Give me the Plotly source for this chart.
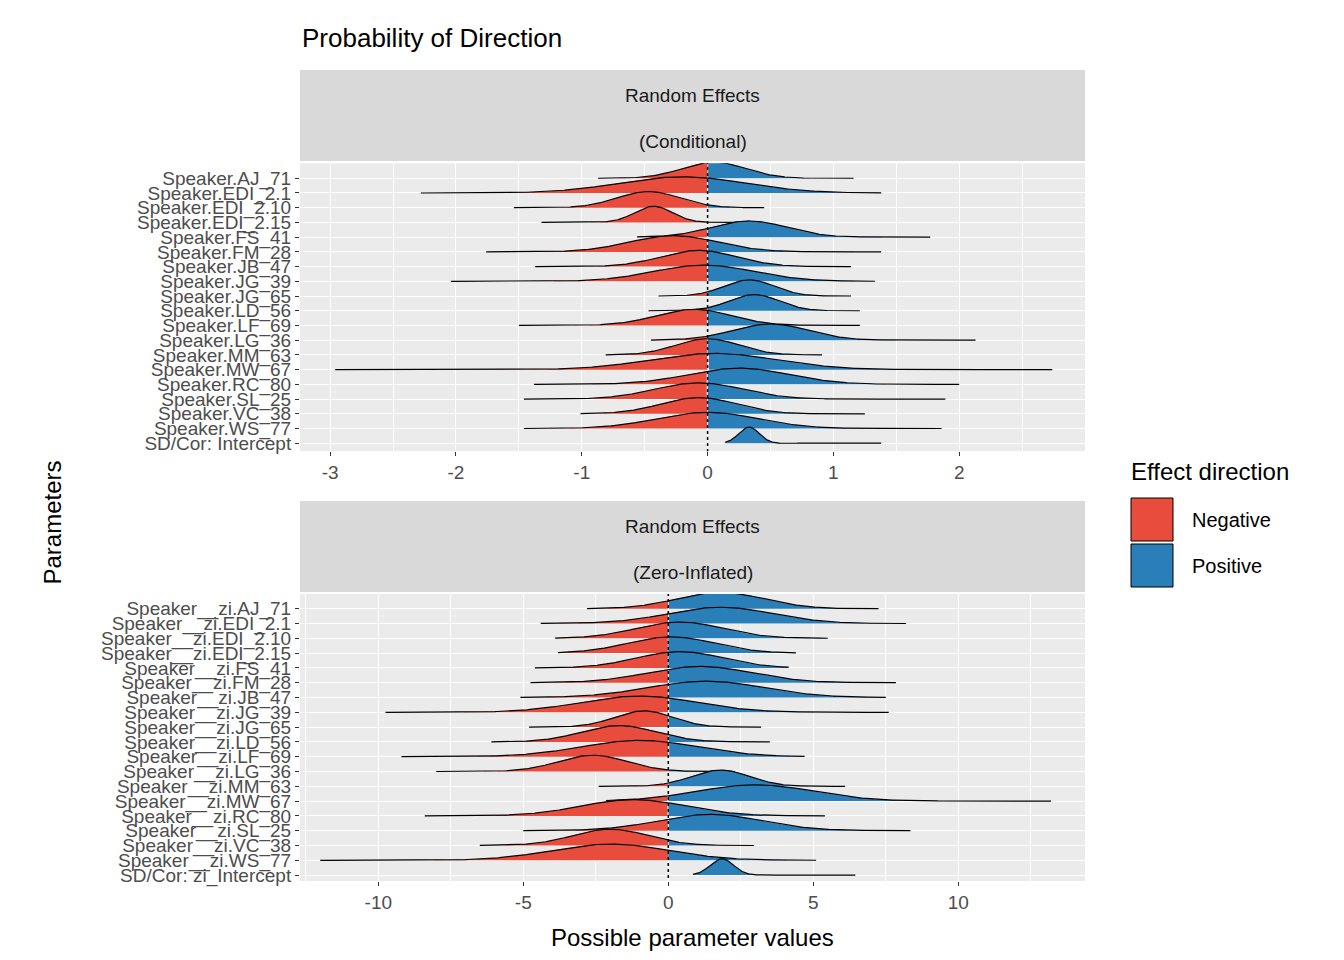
import numpy as np
import plotly.graph_objects as go

params_top = ["Speaker.AJ_71","Speaker.EDI_2.1","Speaker.EDI_2.10","Speaker.EDI_2.15","Speaker.FS_41",
              "Speaker.FM_28","Speaker.JB_47","Speaker.JG_39","Speaker.JG_65","Speaker.LD_56","Speaker.LF_69",
              "Speaker.LG_36","Speaker.MM_63","Speaker.MW_67","Speaker.RC_80","Speaker.SL_25","Speaker.VC_38",
              "Speaker.WS_77","SD/Cor: Intercept"]
center_top = [0.05,-0.2,-0.47,-0.43,0.33,-0.27,-0.07,-0.03,0.33,0.37,-0.11,0.5,0.0,0.05,0.25,-0.07,-0.07,0.0,0.33]
spread_top = [0.25,0.5,0.25,0.15,0.3,0.35,0.3,0.4,0.2,0.2,0.3,0.3,0.25,0.5,0.4,0.35,0.3,0.4,0.08]
min_top = [-0.87,-2.28,-1.54,-1.32,-0.56,-1.76,-1.37,-2.04,-0.39,-0.47,-1.5,-0.45,-0.81,-2.96,-1.38,-1.46,-1.01,-1.46,0.14]
max_top = [1.16,1.38,0.45,0.37,1.77,1.38,1.14,1.33,1.14,1.21,1.21,2.13,0.91,2.74,2.0,1.89,1.25,1.86,1.38]

params_bot = ["Speaker__zi.AJ_71","Speaker__zi.EDI_2.1","Speaker__zi.EDI_2.10","Speaker__zi.EDI_2.15","Speaker__zi.FS_41",
              "Speaker__zi.FM_28","Speaker__zi.JB_47","Speaker__zi.JG_39","Speaker__zi.JG_65","Speaker__zi.LD_56","Speaker__zi.LF_69",
              "Speaker__zi.LG_36","Speaker__zi.MM_63","Speaker__zi.MW_67","Speaker__zi.RC_80","Speaker__zi.SL_25","Speaker__zi.VC_38",
              "Speaker__zi.WS_77","SD/Cor: zi_Intercept"]
center_bot = [1.8,1.8,0.4,0.1,0.4,1.1,1.3,-1.0,-0.85,-1.7,-1.0,-2.6,1.8,3.0,-1.2,1.45,-2.0,-2.0,1.85]
spread_bot = [1.5,1.8,1.5,1.5,1.5,1.8,2.0,2.0,1.0,1.3,2.0,1.2,1.0,2.0,1.8,1.8,1.3,2.0,0.4]
min_bot = [-2.8,-4.4,-3.9,-3.8,-4.6,-4.75,-5.1,-9.75,-4.8,-6.1,-9.2,-8.0,-2.4,-2.15,-8.4,-5.0,-6.5,-12.0,0.85]
max_bot = [7.25,8.2,5.5,4.4,4.15,7.85,7.5,7.6,3.2,3.5,4.7,2.3,6.1,13.2,5.4,8.35,2.95,5.1,6.45]

RED = "#E74C3C"; BLUE = "#2A7FB9"
fig = go.Figure()

def add_panel(names, cen, sd, lo, hi, xa, ya):
    n = len(names)
    for i in range(n):
        base = n - 1 - i
        x = np.linspace(lo[i], hi[i], 400)
        d = np.exp(-0.5 * ((x - cen[i]) / sd[i]) ** 2)
        y = base + 1.1 * d
        for mask, col in [(x <= 0, RED), (x >= 0, BLUE)]:
            if mask.sum() < 2:
                continue
            xs = x[mask]; ys = y[mask]
            px = np.concatenate([xs, xs[::-1]]); py = np.concatenate([ys, np.full(len(xs), base)])
            fig.add_trace(go.Scatter(x=px, y=py, fill="toself", fillcolor=col, mode="none",
                                     xaxis=xa, yaxis=ya, showlegend=False, hoverinfo="skip"))
        fig.add_trace(go.Scatter(x=x, y=y, mode="lines", line=dict(color="black", width=1.2),
                                 xaxis=xa, yaxis=ya, showlegend=False, hoverinfo="skip"))
    fig.add_trace(go.Scatter(x=[0, 0], y=[-1, n + 1], mode="lines", line=dict(color="black", width=1.5, dash="dot"),
                             xaxis=xa, yaxis=ya, showlegend=False, hoverinfo="skip"))

add_panel(params_top, center_top, spread_top, min_top, max_top, "x", "y")
add_panel(params_bot, center_bot, spread_bot, min_bot, max_bot, "x2", "y2")

tickfont = dict(family="Liberation Sans, Arial", size=19, color="#4D4D4D")
axcommon = dict(showgrid=True, gridcolor="white", gridwidth=1.3, zeroline=False, ticks="outside",
                ticklen=4, tickcolor="#333333", tickfont=tickfont, showline=False, automargin=False)
n = len(params_top)
fig.update_layout(
    width=1344, height=960, plot_bgcolor="#EBEBEB", paper_bgcolor="white",
    margin=dict(l=292, r=267, t=62, b=87, autoexpand=False),
    xaxis=dict(domain=[0, 1], anchor="y", range=[-3.24, 3.0], tickvals=[-3, -2, -1, 0, 1, 2],
               ticktext=["-3", "-2", "-1", "0", "1", "2"],
               minor=dict(tickvals=list(np.arange(-3.5, 3.01, 1.0)), showgrid=True, gridcolor="white", gridwidth=0.6),
               **axcommon),
    yaxis=dict(domain=[0.530, 0.885], anchor="x", range=[-0.54, 19.02], tickvals=list(range(n)),
               ticktext=params_top[::-1], **axcommon),
    xaxis2=dict(domain=[0, 1], anchor="y2", range=[-12.7, 14.37], tickvals=[-10, -5, 0, 5, 10],
                ticktext=["-10", "-5", "0", "5", "10"],
                minor=dict(tickvals=[-12.5, -7.5, -2.5, 2.5, 7.5, 12.5], showgrid=True, gridcolor="white", gridwidth=0.6),
                **axcommon),
    yaxis2=dict(domain=[0, 0.354], anchor="x2", range=[-0.4, 19.0], tickvals=list(range(n)),
                ticktext=params_bot[::-1], **axcommon),
)
F = "Liberation Sans, Arial"
for ytop, ybot, l1, l2 in [(62, 153, "Random Effects", "(Conditional)"), (493, 584, "Random Effects", "(Zero-Inflated)")]:
    fig.add_shape(type="rect", xref="paper", yref="paper", x0=0, x1=1, y0=(873 - ybot) / 811, y1=(873 - ytop) / 811,
                  fillcolor="#D9D9D9", line=dict(width=0))
    for yy, t in [(ytop + 25, l1), (ytop + 71, l2)]:
        fig.add_annotation(xref="paper", yref="paper", x=0.5, y=(873 - yy) / 811, text=t, showarrow=False,
                           yanchor="middle", font=dict(family=F, size=19, color="#1A1A1A"))
fig.add_annotation(xref="paper", yref="paper", x=0, y=(873 - 30) / 811, xanchor="left", yanchor="middle",
                   text="Probability of Direction", showarrow=False, font=dict(family=F, size=26, color="black"))
fig.add_annotation(xref="paper", yref="paper", x=(28 - 292) / 785, y=(873 - 515) / 811, text="Parameters", textangle=-90,
                   showarrow=False, font=dict(family=F, size=24, color="black"))
fig.add_annotation(xref="paper", yref="paper", x=(684 - 292) / 785, y=(873 - 930) / 811, text="Possible parameter values",
                   showarrow=False, yanchor="middle", font=dict(family=F, size=24, color="black"))
# legend
fig.add_annotation(xref="paper", yref="paper", x=(1121 - 292) / 785, y=(873 - 463) / 811, xanchor="left", yanchor="middle",
                   text="Effect direction", showarrow=False, font=dict(family=F, size=24, color="black"))
for k, (lab, col) in enumerate([("Negative", RED), ("Positive", BLUE)]):
    top = 490 + k * 46; bot = top + 43
    fig.add_shape(type="rect", xref="paper", yref="paper", x0=(1123 - 292) / 785, x1=(1165 - 292) / 785,
                  y0=(873 - bot) / 811, y1=(873 - top) / 811, fillcolor=col, line=dict(color="black", width=1))
    fig.add_annotation(xref="paper", yref="paper", x=(1182 - 292) / 785, y=(873 - (top + bot) / 2) / 811, xanchor="left",
                       yanchor="middle", text=lab, showarrow=False, font=dict(family=F, size=20, color="black"))
fig.write_html("out.html")
